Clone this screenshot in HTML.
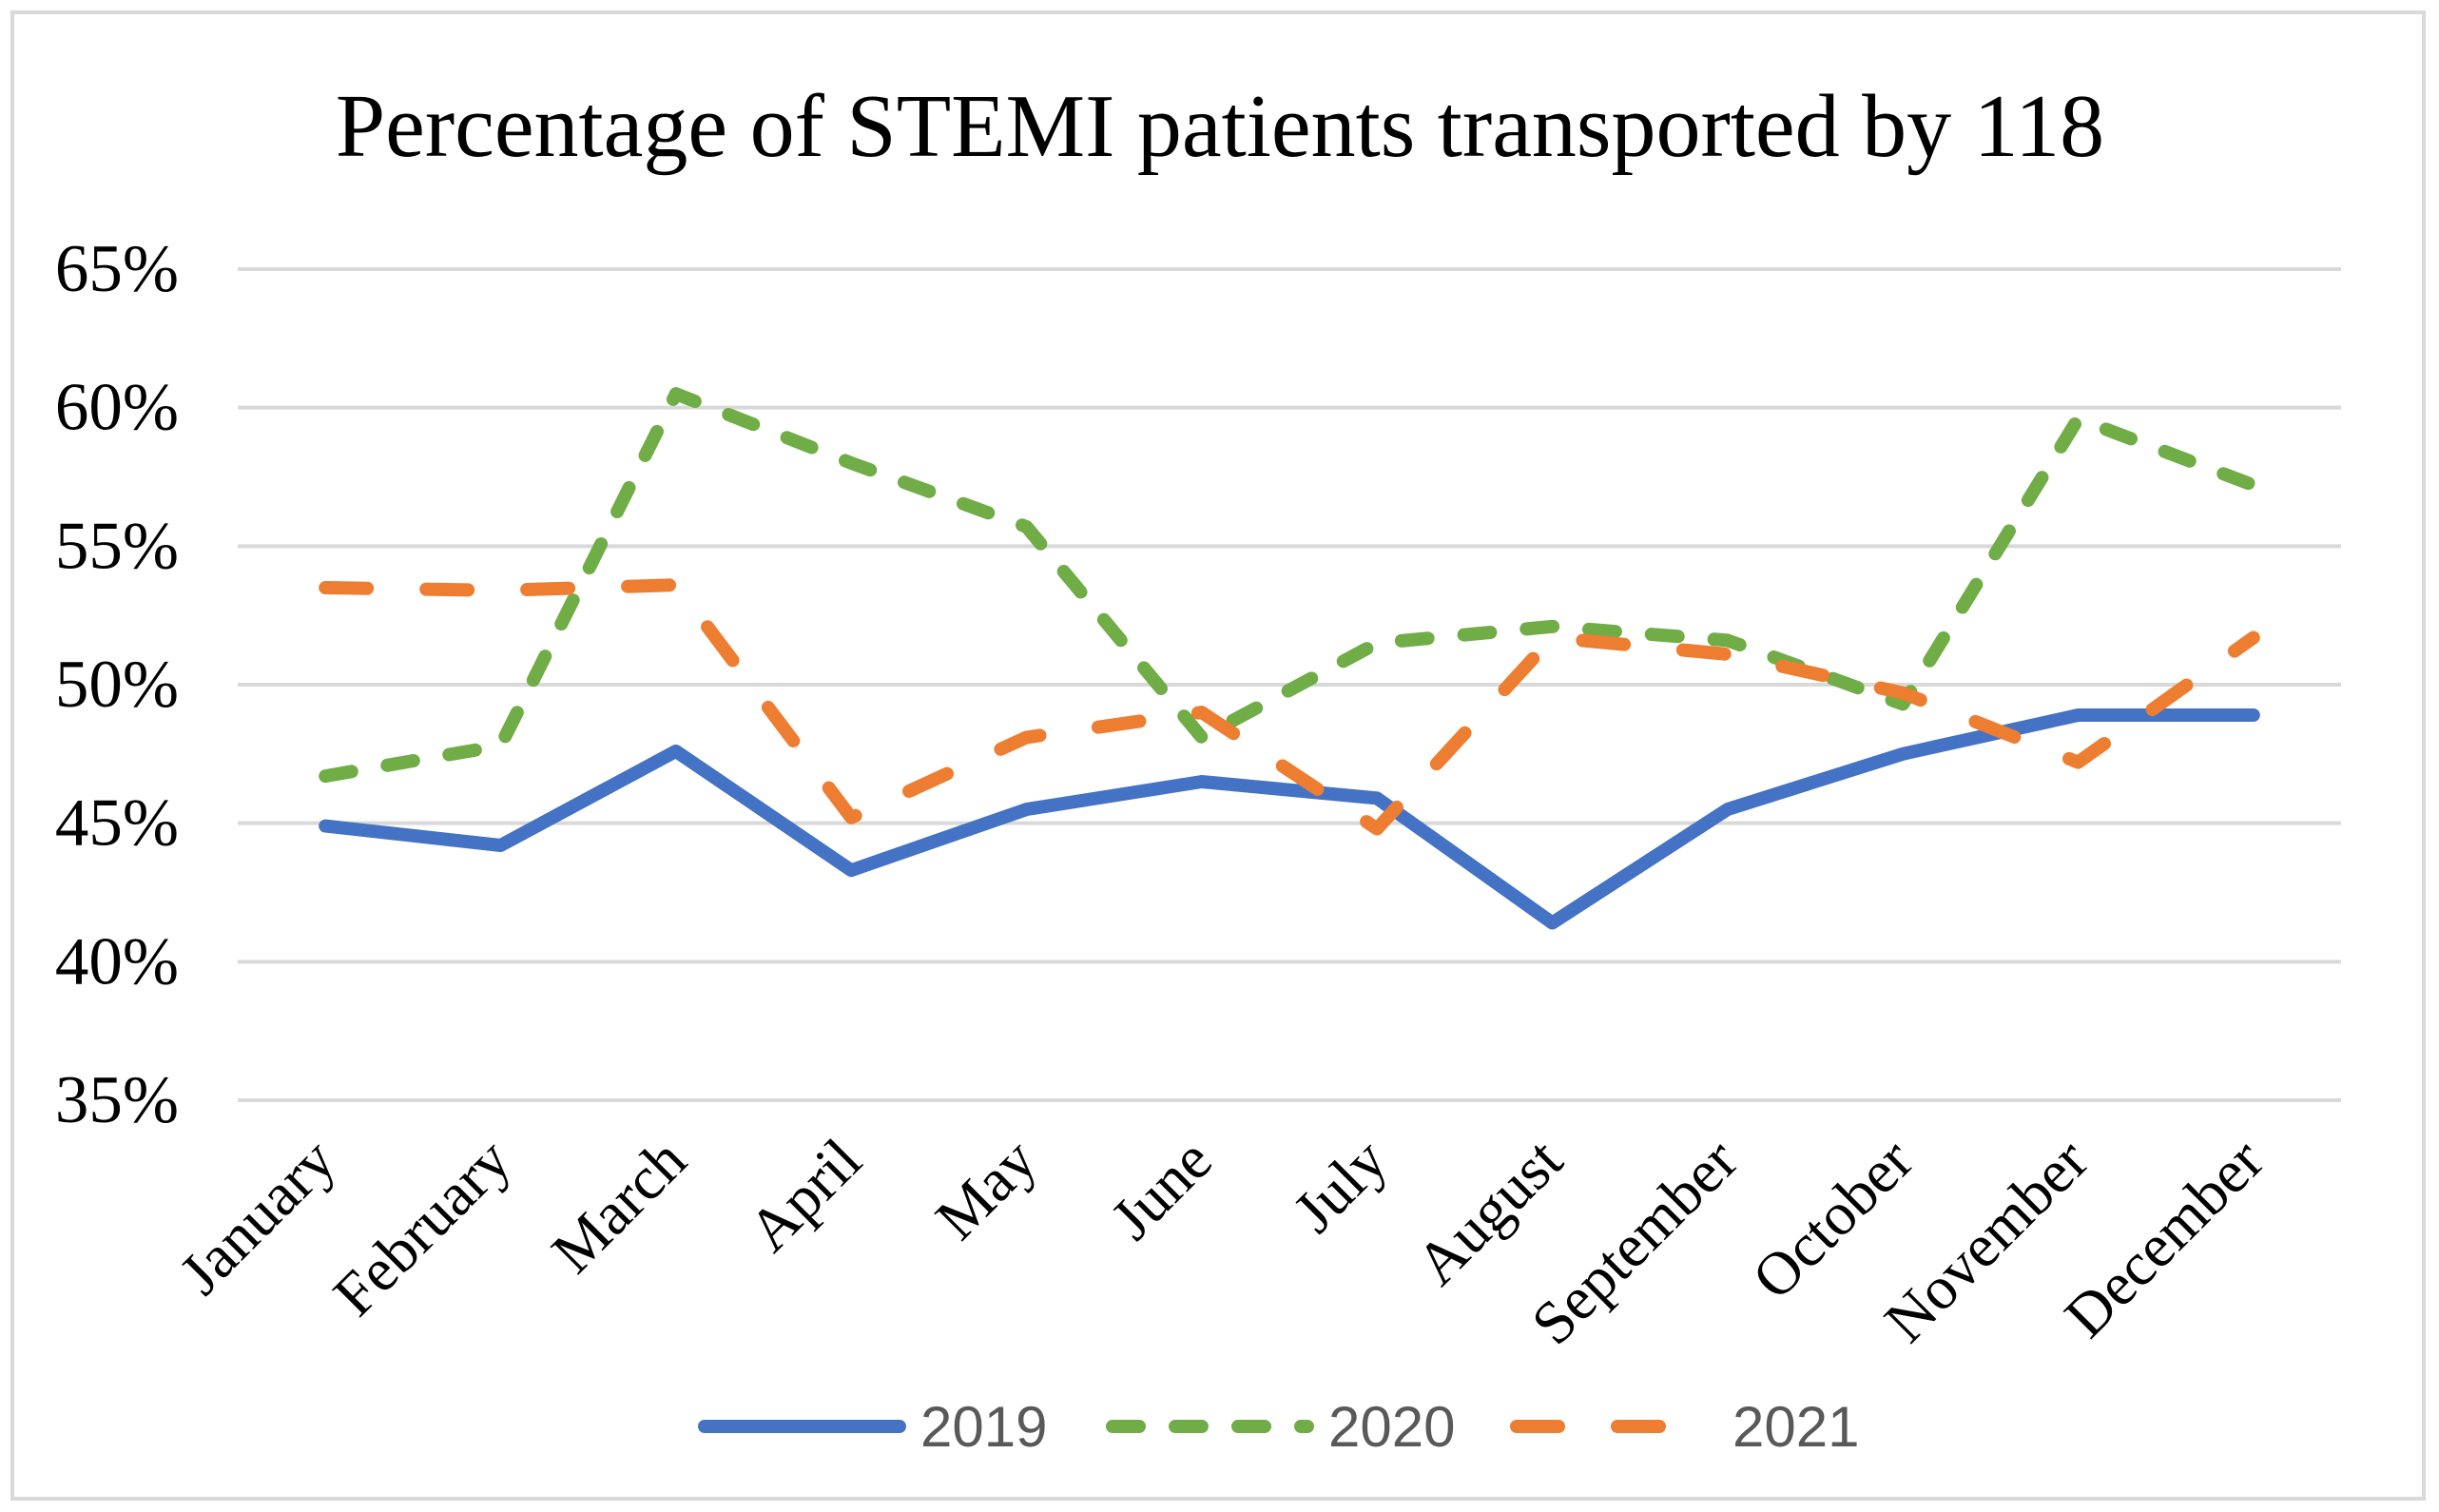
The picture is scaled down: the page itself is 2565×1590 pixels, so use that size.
<!DOCTYPE html>
<html><head><meta charset="utf-8"><style>html,body{margin:0;padding:0;background:#fff}svg{display:block}</style></head>
<body>
<svg id="chart" width="2565" height="1590" viewBox="0 0 2565 1590" xmlns="http://www.w3.org/2000/svg">
<rect x="13" y="13" width="2536" height="1563" fill="#fff" stroke="#d9d9d9" stroke-width="4"/>
<text x="1283" y="164" text-anchor="middle" font-family="Liberation Serif, serif" font-size="94" fill="#000">Percentage of STEMI patients transported by 118</text>
<g id="grid"></g><g id="ylabels"></g><g id="xlabels"></g><g id="series"></g>
<g id="legend"></g>
</svg>
<script>
const categories=["January","February","March","April","May","June","July","August","September","October","November","December"];
const yTicks=[35,40,45,50,55,60,65];
const s2019=[44.9,44.2,47.6,43.3,45.5,46.5,45.9,41.4,45.5,47.5,48.9,48.9];
const s2020=[46.7,47.8,60.5,58.0,55.7,48.1,51.5,52.1,51.6,49.3,59.6,57.2];
const s2021=[53.5,53.4,53.6,45.2,48.1,49.0,44.8,51.7,51.1,49.7,47.2,51.7];
const NS="http://www.w3.org/2000/svg";
const L=250,R=2462,T=283,B=1157,YMIN=35,YMAX=65;
const band=(R-L)/categories.length;
const xs=i=>L+band*(i+0.5);
const ys=v=>B-(v-YMIN)/(YMAX-YMIN)*(B-T);
function mk(t,a,p){const e=document.createElementNS(NS,t);for(const k in a)e.setAttribute(k,a[k]);p.appendChild(e);return e;}
const grid=document.getElementById('grid'),yl=document.getElementById('ylabels'),xl=document.getElementById('xlabels'),sg=document.getElementById('series'),lg=document.getElementById('legend');
yTicks.forEach(v=>{
 const g=mk('line',{x1:L,x2:R,y1:ys(v),y2:ys(v),stroke:'#d9d9d9','stroke-width':4},grid);
 
 
 const t=mk('text',{x:188,y:ys(v)+23,'text-anchor':'end','font-family':'Liberation Serif, serif','font-size':71,fill:'#000'},yl);
 t.textContent=v+'%';
 
 
});
categories.forEach((c,i)=>{
 const x=xs(i)+14,y=1224;
 const t=mk('text',{x:x,y:y,'text-anchor':'end','font-family':'Liberation Serif, serif','font-size':64,fill:'#000',transform:`rotate(-45 ${x} ${y})`},xl);
 t.textContent=c;
 
 
});
const series=[
 {name:'2019',data:s2019,color:'#4472C4',dash:'none'},
 {name:'2020',data:s2020,color:'#70AD47',dash:'28 38'},
 {name:'2021',data:s2021,color:'#ED7D31',dash:'44 62'}];
series.forEach(s=>{
 const pts=s.data.map((v,i)=>xs(i).toFixed(1)+','+ys(v).toFixed(1)).join(' ');
 const p=mk('polyline',{points:pts,fill:'none',stroke:s.color,'stroke-width':14,'stroke-linecap':'round','stroke-linejoin':'round','stroke-dasharray':s.dash},sg);
 
 
});
const legX=[741,1170,1595];
series.forEach((s,i)=>{
 const x=legX[i];
 const l=mk('line',{x1:x,x2:x+205,y1:1500,y2:1500,stroke:s.color,'stroke-width':14,'stroke-linecap':'round','stroke-dasharray':s.dash},lg);
 
 
 const t=mk('text',{x:x+227,y:1521,'font-family':'Liberation Sans, sans-serif','font-size':60,fill:'#595959'},lg);
 t.textContent=s.name;
 
 
});
</script>
</body></html>
